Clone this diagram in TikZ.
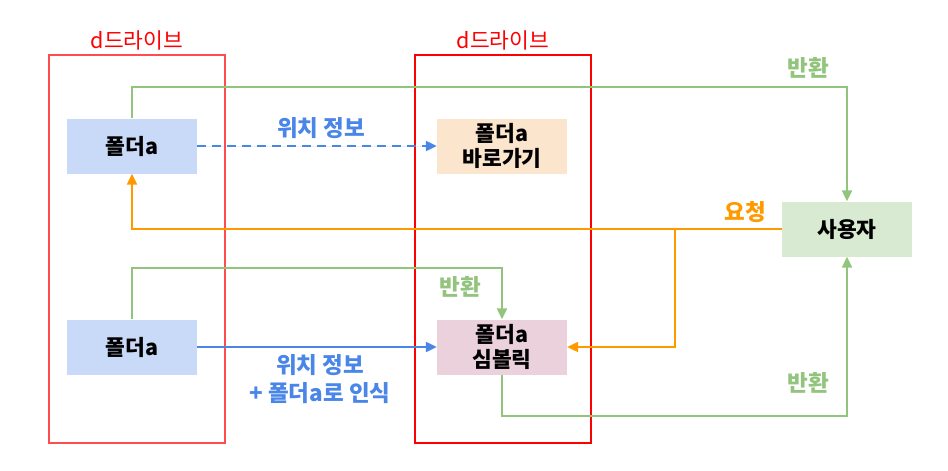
\documentclass[tikz,border=0pt]{standalone}
\usepackage{fontspec}
\setmainfont{Noto Sans CJK KR}
\usetikzlibrary{arrows.meta}

\definecolor{drivered}{rgb}{1,0.3,0.3}
\definecolor{locblue}{rgb}{0.29,0.525,0.91}
\definecolor{reqorange}{rgb}{1,0.6,0}
\definecolor{retgreen}{rgb}{0.576,0.769,0.49}
\definecolor{folderfill}{HTML}{C9DAF8}
\definecolor{shortfill}{HTML}{FCE5CD}
\definecolor{symfill}{HTML}{EAD1DC}
\definecolor{userfill}{HTML}{D9EAD3}

\tikzset{
  box/.style={minimum width=130pt, minimum height=55pt, inner sep=0pt,
    align=center, font=\fontsize{21.5}{25}\selectfont\bfseries},
  drivetag/.style={text=red, font=\fontsize{21.5}{24}\selectfont},
  tag/.style={font=\fontsize{22.5}{28}\selectfont\bfseries, align=center},
  conn/.style={line width=2.2pt, -{Triangle[length=11pt,width=10pt]}},
}

\begin{document}
\begin{tikzpicture}[x=1pt, y=-1pt]
  \useasboundingbox (0,0) rectangle (948,471);

  % drives
  \draw[draw=drivered, line width=1.4pt] (49,55) rectangle (225,443);
  \draw[draw=red, line width=1.4pt] (415,55) rectangle (591,443);
  \node[drivetag] (driveL) at (137,40) {d드라이브};
  \node[drivetag] (driveR) at (503,40) {d드라이브};

  % boxes
  \node[box, fill=folderfill] (folderA) at (132,146) {폴더a};
  \node[box, fill=folderfill] (folderB) at (132,347) {폴더a};
  \node[box, fill=shortfill] (shortcut) at (502,146) {폴더a\\바로가기};
  \node[box, fill=symfill] (symlink) at (502,347) {폴더a\\심볼릭};
  \node[box, fill=userfill] (user) at (847,229) {사용자};

  % location info
  \draw[conn, draw=locblue, fill=locblue, dash pattern=on 9pt off 6pt] (folderA) -- (shortcut);
  \node[tag, text=locblue] (locA) at (321,128) {위치 정보};
  \draw[conn, draw=locblue, fill=locblue] (folderB) -- (symlink);
  \node[tag, text=locblue] (locB) at (320,379) {위치 정보\\+ 폴더a로 인식};

  % request
  \draw[conn, reqorange] (user.west) -| (folderA.south);
  \coordinate (split) at (675,229);
  \draw[conn, reqorange] (split) |- (symlink.east);
  \node[tag, text=reqorange] (req) at (745,212) {요청};

  % returns
  \draw[conn, retgreen] (folderA.north) -- ++(0,-31) -| (user.north);
  \node[tag, text=retgreen] (retA) at (808,68) {반환};
  \draw[conn, retgreen] (folderB.north) -- ++(0,-51) -| (symlink.north);
  \node[tag, text=retgreen] (retB) at (460,287) {반환};
  \draw[conn, retgreen] (symlink.south) -- ++(0,41) -| (user.south);
  \node[tag, text=retgreen] (retC) at (808,383) {반환};
\end{tikzpicture}
\end{document}
